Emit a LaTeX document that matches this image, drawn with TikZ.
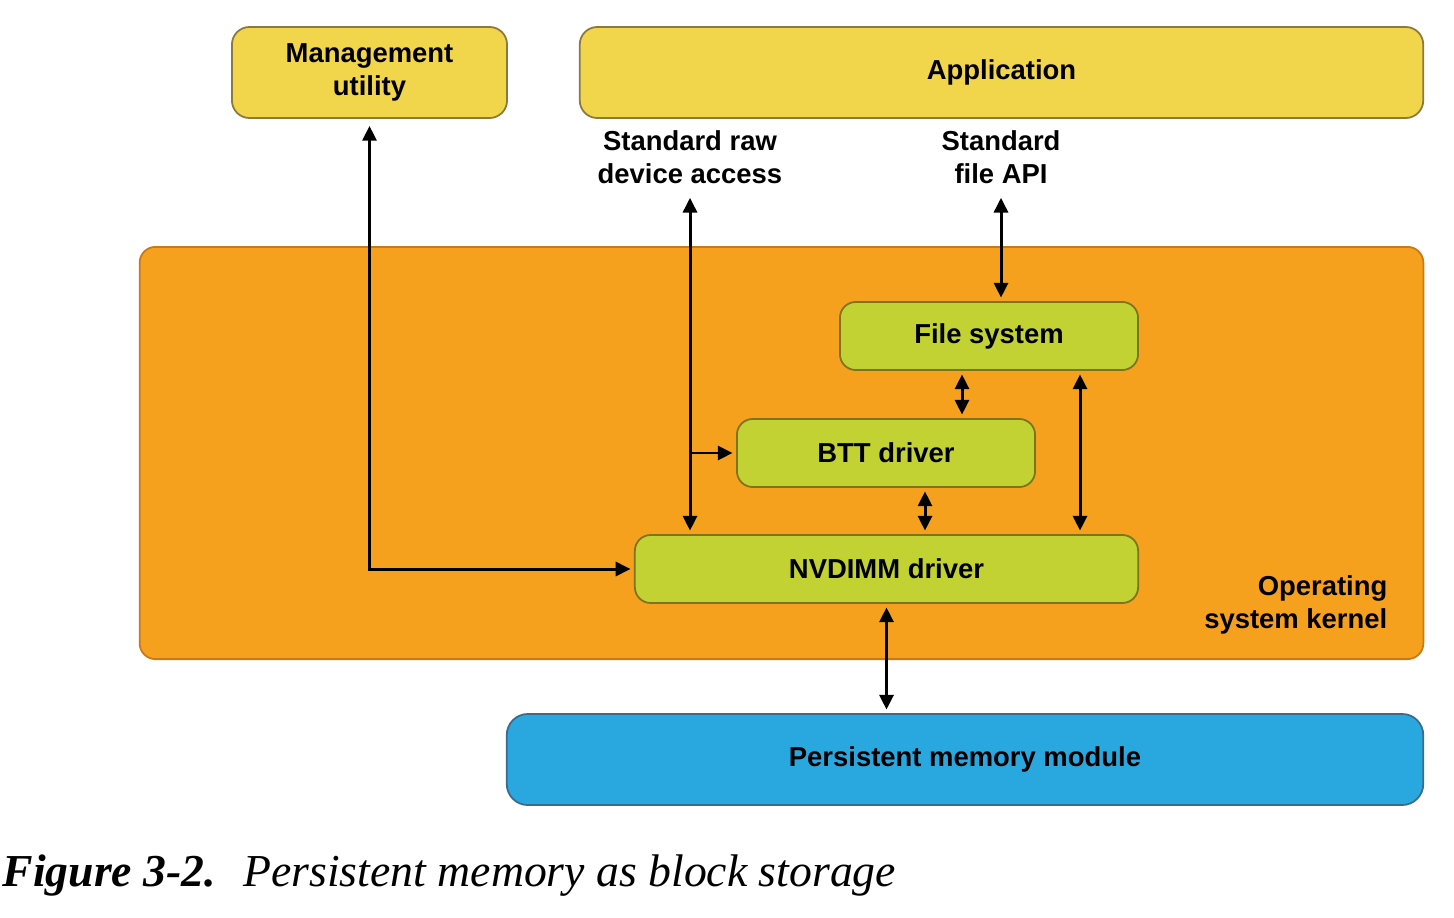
\documentclass[tikz,border=0pt]{standalone}
\usepackage{fontspec}
\setmainfont{Liberation Serif}
\setsansfont{Liberation Sans}
\usetikzlibrary{arrows.meta,calc}
\definecolor{PmYellow}{HTML}{F1D54A}
\definecolor{PmYellowEdge}{HTML}{8C7A3C}
\definecolor{PmOrange}{HTML}{F6A11E}
\definecolor{PmOrangeEdge}{HTML}{C97A16}
\definecolor{PmGreen}{HTML}{C1D232}
\definecolor{PmGreenEdge}{HTML}{7C7420}
\definecolor{PmBlue}{HTML}{29A8E0}
\definecolor{PmBlueEdge}{HTML}{3C6A8A}

\begin{document}
\begin{tikzpicture}[
  x=0.01cm,y=-0.01cm,
  lbl/.style={align=center,inner sep=0pt,font=\sffamily\bfseries\fontsize{7.8}{9.4}\selectfont},
  usrbox/.style={lbl,rounded corners=5pt,draw=PmYellowEdge,fill=PmYellow,line width=0.5pt,
    minimum height=0.91cm},
  drvbox/.style={lbl,rounded corners=4.5pt,draw=PmGreenEdge,fill=PmGreen,line width=0.5pt,
    minimum height=0.68cm},
  dblarrow/.style={{Triangle[length=4.2pt,width=4pt]}-{Triangle[length=4.2pt,width=4pt]},
    line width=0.85pt,black,shorten <=1pt,shorten >=1pt},
  arrow/.style={-{Triangle[length=4.2pt,width=4pt]},line width=0.85pt,black,shorten >=1pt}
]
  \useasboundingbox (0,0) rectangle (1454,918);

  % kernel area
  \node[rounded corners=4.5pt,draw=PmOrangeEdge,fill=PmOrange,line width=0.5pt,
    minimum width=12.83cm,minimum height=4.12cm,inner sep=0pt] (kernel) at (781.5,453) {};
  \node[lbl,align=right,anchor=east] (kernellbl) at (1388,605) {Operating\\system kernel};

  % user space
  \node[usrbox,minimum width=2.75cm] (mgmt) at (369.5,72.5) {Management\\utility};
  \node[usrbox,minimum width=8.43cm] (app) at (1001.5,72.5) {Application};
  \node[lbl] (rawlbl) at (690,157) {Standard raw\\device access};
  \node[lbl] (apilbl) at (1001,157) {Standard\\file API};

  % drivers
  \node[drvbox,minimum width=2.98cm] (fs) at (989,336) {File system};
  \node[drvbox,minimum width=2.98cm] (btt) at (886,453) {BTT driver};
  \node[drvbox,minimum width=5.03cm] (nvdimm) at (886.5,569) {NVDIMM driver};

  \node[lbl,rounded corners=6pt,draw=PmBlueEdge,fill=PmBlue,line width=0.5pt,
    minimum width=9.16cm,minimum height=0.91cm] (pmm) at (965,759.5) {Persistent memory module};

  \coordinate (fsbtt) at ($(fs.south)+(-27,0)$);
  \coordinate (bttnv) at ($(btt.south)+(39,0)$);
  \coordinate (fsnv) at ($(fs.south)+(91,0)$);

  \draw[dblarrow,shorten <=2pt] (mgmt.south) |- (nvdimm.west);
  \draw[dblarrow] ($(rawlbl.south)+(0,10)$) -- (rawlbl.south |- nvdimm.north);
  \draw[arrow] (rawlbl.south |- btt.west) -- (btt.west);
  \draw[dblarrow] ($(apilbl.south)+(0,10)$) -- (apilbl.south |- fs.north);
  \draw[dblarrow] (fsbtt) -- (fsbtt |- btt.north);
  \draw[dblarrow] (bttnv) -- (bttnv |- nvdimm.north);
  \draw[dblarrow] (fsnv) -- (fsnv |- nvdimm.north);
  \draw[dblarrow] (nvdimm.south) -- (nvdimm.south |- pmm.north);

  % caption
  \node[anchor=base west,inner sep=0pt,font=\fontsize{13}{15}\selectfont] (caption) at (2,886)
    {\textbf{\textit{Figure 3-2.}}\hspace{0.6em}\textit{Persistent memory as block storage}};
\end{tikzpicture}
\end{document}
